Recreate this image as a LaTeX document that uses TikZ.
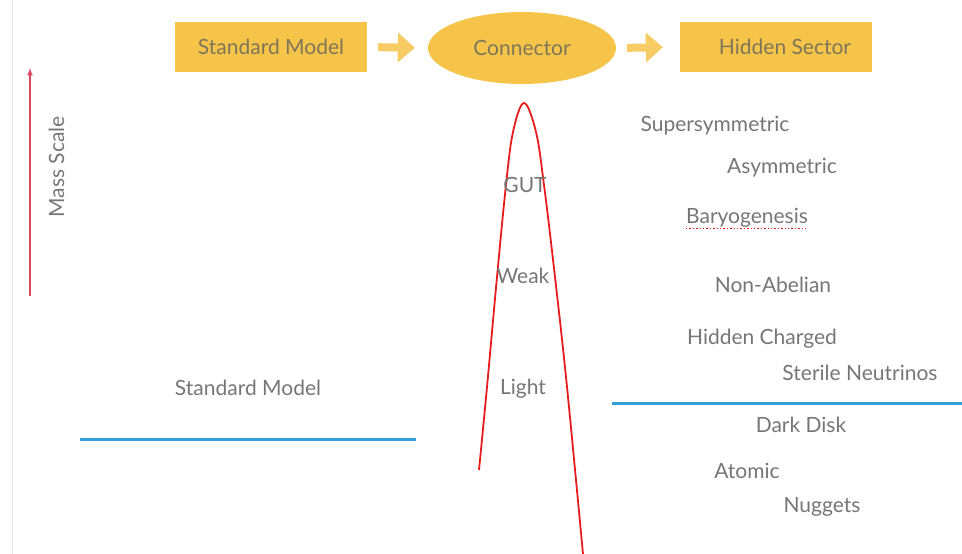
\documentclass[tikz,border=0pt]{standalone}
\usepackage{fontspec}
\setmainfont{Lato}
\usetikzlibrary{arrows.meta,shapes.geometric}
\definecolor{boxyellow}{RGB}{245,196,72}
\definecolor{arrowyellow}{RGB}{248,204,100}
\definecolor{labelgray}{RGB}{118,118,118}
\definecolor{boxtext}{RGB}{125,118,90}
\definecolor{curvered}{RGB}{232,28,28}
\definecolor{scalered}{RGB}{222,72,92}
\definecolor{levelblue}{RGB}{52,160,218}
\definecolor{edgegray}{RGB}{230,232,234}
\tikzset{
  box/.style={fill=boxyellow, minimum width=192pt, minimum height=50pt, inner sep=0pt, text=boxtext},
  lbl/.style={text=labelgray, inner sep=0pt, text height=14pt, text depth=0pt},
  flow/.style={arrowyellow, line width=8pt, -{Triangle[length=17pt, width=30pt, line width=0pt]}},
  level/.style={draw=levelblue, line width=3pt}
}
\begin{document}
\begin{tikzpicture}[x=1pt, y=-1pt, >=latex, font=\fontsize{21}{24}\selectfont]
\useasboundingbox (0, 0) rectangle (962, 554);
\draw[edgegray, line width=1pt] (12, 0) -- (12, 554);

\node[box] (smbox) at (271, 47) {Standard Model};
\node[ellipse, fill=boxyellow, minimum width=188pt, minimum height=72pt, inner sep=0pt, text=boxtext] (conn) at (522, 48) {Connector};
\node[box] (hsbox) at (776, 47) {\hspace*{18pt}Hidden Sector};

\draw[flow, shorten <=11pt, shorten >=13pt] (smbox.east) -- (conn.west);
\draw[flow, shorten <=11pt, shorten >=17pt] (conn.east) -- (hsbox.west);

\coordinate (mlow)  at (30, 296);
\coordinate (mhigh) at (30, 68);
\draw[->, scalered, line width=1.5pt] (mlow) -- (mhigh);
\node[lbl, rotate=90] (mass) at (57, 167) {Mass Scale};

\draw[curvered, line width=1.8pt] plot[smooth, tension=0.6] coordinates {(479, 470) (487, 387) (497, 277) (506, 185) (513, 132) (524, 103) (536, 132) (544, 185) (555, 277) (567, 387) (583, 554)};

\node[lbl] (gut)   at (525, 185) {GUT};
\node[lbl] (weak)  at (523, 276) {Weak};
\node[lbl] (light) at (523, 387) {Light};

\node[lbl] (susy)  at (715, 124) {Supersymmetric};
\node[lbl] (asym)  at (782, 166) {Asymmetric};
\node[lbl] (bary)  at (747, 216) {Baryogenesis};
\node[lbl] (nonab) at (773, 285) {Non-Abelian};
\node[lbl] (hchg)  at (762, 337) {Hidden Charged};
\node[lbl] (ster)  at (860, 373) {Sterile Neutrinos};
\node[lbl] (disk)  at (801, 425) {Dark Disk};
\node[lbl] (atom)  at (747, 471) {Atomic};
\node[lbl] (nugg)  at (822, 505) {Nuggets};
\node[lbl] (smlbl) at (248, 388) {Standard Model};

\draw[curvered, dotted, line width=1.4pt] ([yshift=-5pt]bary.south west) -- ([yshift=-5pt]bary.south east);

\coordinate (hsl) at (612, 403);
\coordinate (hsr) at (962, 403);
\coordinate (sml) at (80, 439);
\coordinate (smr) at (416, 439);
\draw[level] (hsl) -- (hsr);
\draw[level] (sml) -- (smr);
\end{tikzpicture}
\end{document}
